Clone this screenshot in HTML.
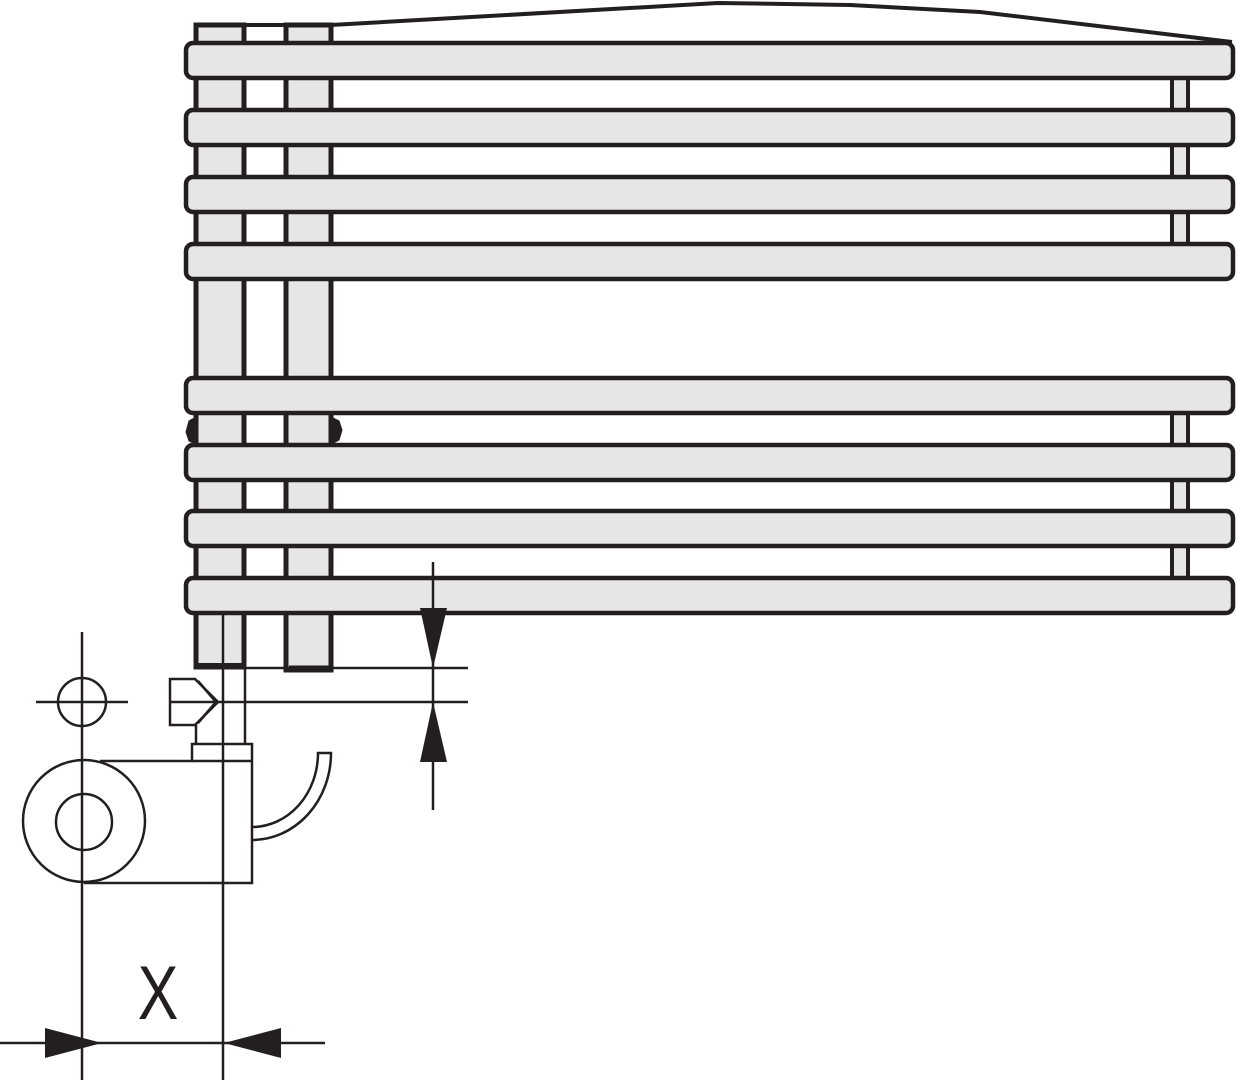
<!DOCTYPE html>
<html><head><meta charset="utf-8"><style>html,body{margin:0;padding:0;background:#fff}svg{display:block}</style></head>
<body>
<svg width="1238" height="1080" viewBox="0 0 1238 1080" xmlns="http://www.w3.org/2000/svg">
<g stroke="#231f20" fill="none" stroke-linecap="butt">
<!-- top profile -->
<polyline points="196,25 331,25 718,3 850,5 980,12 1232,42" stroke-width="4"/>
<!-- columns -->
<rect x="196" y="25" width="48" height="642" fill="#e6e6e6" stroke-width="5"/>
<rect x="286" y="25" width="45" height="645" fill="#e6e6e6" stroke-width="5"/>
<line x1="196" y1="666" x2="244" y2="666" stroke-width="6"/>
<line x1="289" y1="669" x2="329" y2="669" stroke-width="7"/>
<line x1="223" y1="613" x2="223" y2="1080" stroke-width="2.5"/>
<!-- left pill ends -->
<path d="M196,417 L189,421 L186,432 L189,441 L196,444 Z" fill="#231f20" stroke-width="1"/>
<path d="M331,417 L339,421 L342,430 L339,440 L331,444 Z" fill="#231f20" stroke-width="1"/>
<!-- right connectors -->
<g fill="#e6e6e6" stroke-width="4">
<rect x="1172" y="74" width="16" height="40" rx="6"/>
<rect x="1172" y="141" width="16" height="40" rx="6"/>
<rect x="1172" y="208" width="16" height="40" rx="6"/>
<rect x="1172" y="409" width="16" height="40" rx="6"/>
<rect x="1172" y="476" width="16" height="39" rx="6"/>
<rect x="1172" y="542" width="16" height="40" rx="6"/>
</g>
<!-- bars -->
<g fill="#e6e6e6" stroke-width="4.5">
<rect x="186" y="43" width="1047" height="35" rx="7"/>
<rect x="186" y="110" width="1047" height="35" rx="7"/>
<rect x="186" y="177" width="1047" height="35" rx="7"/>
<rect x="186" y="244" width="1047" height="35" rx="7"/>
<rect x="186" y="378" width="1047" height="35" rx="7"/>
<rect x="186" y="445" width="1047" height="35" rx="7"/>
<rect x="186" y="511" width="1047" height="35" rx="7"/>
<rect x="186" y="578" width="1047" height="35" rx="7"/>
</g>
<!-- lower fitting lines -->
<g stroke-width="2.5">
<line x1="82" y1="632" x2="82" y2="1080"/>
<line x1="36" y1="702" x2="128" y2="702"/>
<circle cx="82" cy="702" r="24"/>
<circle cx="84" cy="821" r="61"/>
<circle cx="84" cy="822" r="28"/>
<polyline points="100,761 192,761 192,744 252,744 252,883 84,883"/>
<line x1="192" y1="761" x2="252" y2="761"/>
<line x1="245" y1="668" x2="245" y2="744"/>
<line x1="196" y1="725" x2="196" y2="744"/>
<polygon points="170,679 195,679 218,702 195,725 170,725"/>
<line x1="198" y1="681" x2="216" y2="702"/>
<line x1="198" y1="723" x2="216" y2="702"/>
<line x1="170" y1="702" x2="216" y2="702"/>
<line x1="245" y1="668" x2="468" y2="668"/>
<line x1="218" y1="702" x2="468" y2="702"/>
<line x1="433" y1="562" x2="433" y2="810"/>
<path d="M252,827 A66,74 0 0 0 318,753 L331,753 A79,87 0 0 1 252,840"/>
<line x1="0" y1="1043" x2="325" y2="1043"/>
</g>
</g>
<g fill="#231f20">
<polygon points="420,608 447,608 433,668"/>
<polygon points="420,762 447,762 433,702"/>
<polygon points="45,1028 45,1058 102,1043"/>
<polygon points="281,1028 281,1058 224,1043"/>
</g>
<text x="158" y="1019" font-family="Liberation Sans, sans-serif" font-size="76" text-anchor="middle" fill="#231f20" transform="translate(158 0) scale(0.8 1) translate(-158 0)">X</text>
</svg>
</body></html>
